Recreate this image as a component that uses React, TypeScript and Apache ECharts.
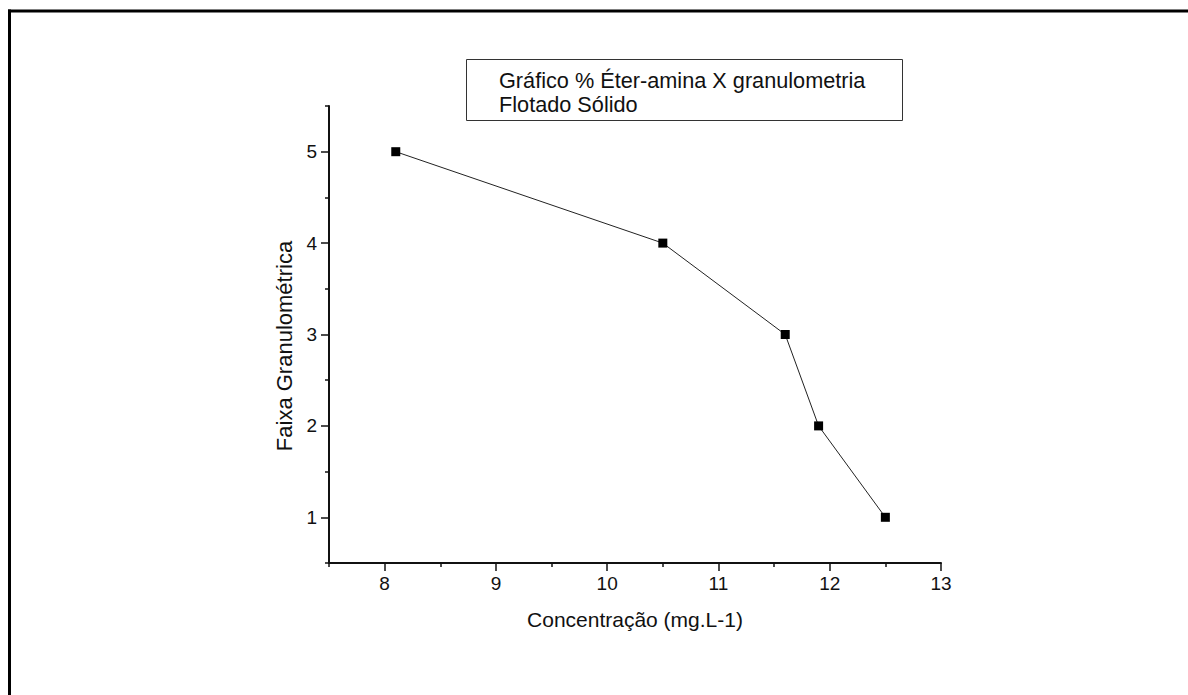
import React, { useEffect, useRef } from "react";
import * as echarts from "echarts";

const concentration = [8.1, 10.5, 11.6, 11.9, 12.5];
const faixa = [5, 4, 3, 2, 1];
const xMajorTicks = [8, 9, 10, 11, 12, 13];
const xMinorTicks = [7.5, 8.5, 9.5, 10.5, 11.5, 12.5];
const yMajorTicks = [1, 2, 3, 4, 5];
const yMinorTicks = [0.5, 1.5, 2.5, 3.5, 4.5, 5.5];
const legendLines = ["Gráfico % Éter-amina X granulometria", "Flotado Sólido"];
const xTitle = "Concentração (mg.L-1)";
const yTitle = "Faixa Granulométrica";

const FONT = "Arial, 'Liberation Sans', sans-serif";
const TICK_FONT = "'Liberation Sans Narrow', 'Arial Narrow', Arial, 'Liberation Sans', sans-serif";

export default function App() {
  const ref = useRef<HTMLDivElement>(null);
  useEffect(() => {
    if (!ref.current) return;
    const chart = echarts.init(ref.current, undefined, { renderer: "svg" });
    const axisColor = "#111";
    chart.setOption({
      animation: false,
      backgroundColor: "#fff",
      textStyle: { fontFamily: FONT },
      grid: { left: 329, right: 247, top: 106, bottom: 132 },
      xAxis: [
        {
          type: "value",
          min: 7.5,
          max: 13,
          interval: 0.5,
          name: xTitle,
          nameLocation: "middle",
          nameGap: 46,
          nameTextStyle: { fontSize: 21, color: "#111", fontFamily: FONT },
          axisLine: { show: true, onZero: false, lineStyle: { color: axisColor, width: 2 } },
          axisTick: { show: true, length: 8, customValues: xMajorTicks, lineStyle: { color: axisColor, width: 1.5 } },
          axisLabel: { customValues: xMajorTicks, margin: 11, fontSize: 19, color: "#111", fontFamily: TICK_FONT },
          splitLine: { show: false },
        },
        {
          type: "value",
          min: 7.5,
          max: 13,
          interval: 0.5,
          position: "bottom",
          axisLine: { show: false, onZero: false },
          axisTick: { show: true, length: 4, customValues: xMinorTicks, lineStyle: { color: axisColor, width: 1.5 } },
          axisLabel: { show: false },
          splitLine: { show: false },
        },
      ],
      yAxis: [
        {
          type: "value",
          min: 0.5,
          max: 5.5,
          interval: 0.5,
          axisLine: { show: true, onZero: false, lineStyle: { color: axisColor, width: 2 } },
          axisTick: { show: true, length: 8, customValues: yMajorTicks, lineStyle: { color: axisColor, width: 1.5 } },
          axisLabel: { customValues: yMajorTicks, margin: 12, fontSize: 19, color: "#111", fontFamily: TICK_FONT },
          splitLine: { show: false },
        },
        {
          type: "value",
          min: 0.5,
          max: 5.5,
          interval: 0.5,
          position: "left",
          axisLine: { show: false, onZero: false },
          axisTick: { show: true, length: 4, customValues: yMinorTicks, lineStyle: { color: axisColor, width: 1.5 } },
          axisLabel: { show: false },
          splitLine: { show: false },
        },
      ],
      series: [
        {
          type: "line",
          data: concentration.map((c, i) => [c, faixa[i]]),
          symbol: "rect",
          symbolSize: 9,
          itemStyle: { color: "#000" },
          lineStyle: { color: "#222", width: 1 },
        },
      ],
      graphic: [
        { type: "line", shape: { x1: 8, y1: 11, x2: 1210, y2: 11 }, style: { stroke: "#000", lineWidth: 3 } },
        { type: "line", shape: { x1: 9.5, y1: 9.5, x2: 9.5, y2: 710 }, style: { stroke: "#000", lineWidth: 3 } },
        {
          type: "rect",
          shape: { x: 466.5, y: 59.5, width: 436, height: 61 },
          style: { fill: "#fff", stroke: "#333", lineWidth: 1 },
        },
        ...legendLines.map((t, i) => ({
          type: "text",
          x: 499,
          y: 80 + i * 24,
          style: { text: t, fontSize: 21.7, fontFamily: FONT, fill: "#111", textVerticalAlign: "middle" },
        })),
        {
          type: "text",
          x: 284,
          y: 346,
          rotation: Math.PI / 2,
          style: {
            text: yTitle,
            fontSize: 22,
            fontFamily: FONT,
            fill: "#111",
            textAlign: "center",
            textVerticalAlign: "middle",
          },
        },
      ],
    });
    return () => chart.dispose();
  }, []);
  return <div ref={ref} style={{ position: "fixed", left: 0, top: 0, width: 1188, height: 695, overflow: "hidden" }} />;
}
